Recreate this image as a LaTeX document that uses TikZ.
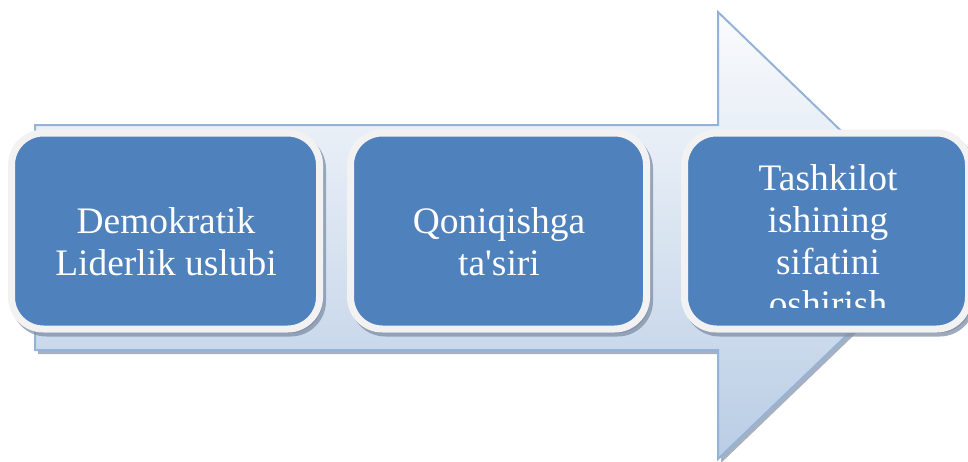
\documentclass[tikz,border=0pt]{standalone}
\usepackage{fontspec}
\setmainfont{Liberation Serif}[Ligatures=TeXOff]
\usetikzlibrary{shadows}
\definecolor{arrowborder}{HTML}{95B3D7}
\definecolor{arrowtop}{HTML}{FAFBFD}
\definecolor{arrowbottom}{HTML}{B9CDE5}
\definecolor{boxfill}{HTML}{4F81BD}
\definecolor{boxborder}{HTML}{F2F2F2}
\definecolor{shadowc}{HTML}{7F8FA6}
\newcommand\boxlines[1]{\vtop{\baselineskip=21pt\lineskiplimit=-10pt\halign{\hfil##\hfil\cr#1\crcr}}}
\tikzset{
  stepbox/.style={rectangle, rounded corners=16pt, draw=boxborder, line width=3.5pt,
    fill=boxfill, minimum height=98pt, inner sep=0pt,
    drop shadow={shadow xshift=1.5pt, shadow yshift=-2pt, fill=shadowc, draw=shadowc, line width=3.5pt, opacity=0.75}},
  boxtext/.style={anchor=base, text=white, font=\fontsize{18.7pt}{21pt}\selectfont, inner sep=0pt}
}
\begin{document}
\begin{tikzpicture}[x=0.5pt,y=-0.5pt]
\useasboundingbox (0,0) rectangle (968,461);
% arrow shadow
\fill[shadowc, opacity=0.7] (38,129) -- (721,129) -- (721,16) -- (953,240) -- (721,463) -- (721,354) -- (38,354) -- cycle;
% big arrow
\draw[draw=arrowborder, line width=1pt, top color=arrowtop, bottom color=arrowbottom]
  (35,125) -- (718,125) -- (718,12) -- (950,236) -- (718,459) -- (718,350) -- (35,350) -- cycle;
% boxes
\node[stepbox, minimum width=154pt] (b1) at (165.5,231) {};
\node[stepbox, minimum width=148pt] (b2) at (498.5,231) {};
\node[stepbox, minimum width=142pt] (b3) at (826.5,231) {};
% texts
\node[boxtext] (t1) at (166,233) {\boxlines{Demokratik\cr Liderlik uslubi}};
\node[boxtext] (t2) at (499,233) {\boxlines{Qoniqishga\cr ta'siri}};
\begin{scope}
\clip (688,140) rectangle (968,307);
\node[boxtext] (t3) at (828,190) {\boxlines{Tashkilot\cr ishining\cr sifatini\cr oshirish}};
\end{scope}
\end{tikzpicture}
\end{document}
